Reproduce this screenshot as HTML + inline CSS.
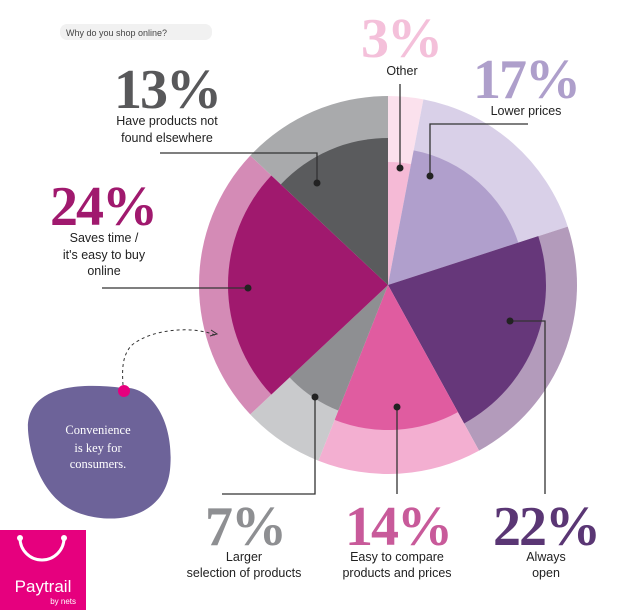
<!DOCTYPE html>
<html><head><meta charset="utf-8"><style>
body{margin:0;width:618px;height:610px;background:#fff;overflow:hidden;font-family:"Liberation Sans",sans-serif;}
svg{position:absolute;left:0;top:0}
.big{font-family:"Liberation Serif",serif;font-weight:bold;font-size:56px;letter-spacing:-2px}
.lab{font-size:12.5px;fill:#222;text-anchor:middle}
</style></head><body>
<svg id="chart" width="618" height="610">
<rect x="60" y="24" width="152" height="16" rx="7" fill="#f1f1f1"/>
<text x="66" y="36" font-size="9" fill="#444">Why do you shop online?</text>
<g id="slices"></g>
<g id="labels"></g>
<path d="M215,335 C190,325 150,330 132,345 C122,355 122,370 123,385" fill="none" stroke="#333" stroke-dasharray="3,3"/>
<path d="M211,330 l6,4 l-7,2" fill="none" stroke="#333"/>
<path d="M123,388 C150,385 175,420 170,470 C165,515 120,525 85,515 C45,505 30,460 28,430 C26,395 60,380 123,388 Z" fill="#6d6399"/>
<circle cx="124" cy="391" r="6" fill="#e6007e"/>
<text font-family="Liberation Serif,serif" font-size="12.5" fill="#fff" text-anchor="middle"><tspan x="98" y="434">Convenience</tspan><tspan x="98" y="452">is key for</tspan><tspan x="98" y="468">consumers.</tspan></text>
<rect x="0" y="530" width="86" height="80" fill="#e6007e"/>
<path d="M20,538 A22,22 0 0 0 64,538" fill="none" stroke="#fff" stroke-width="3"/>
<circle cx="20" cy="538" r="3" fill="#fff"/><circle cx="64" cy="538" r="3" fill="#fff"/>
<text x="43" y="592" fill="#fff" font-size="17" text-anchor="middle" font-family="Liberation Sans,sans-serif">Paytrail</text>
<text x="76" y="604" fill="#fff" font-size="8" text-anchor="end">by nets</text>
</svg>
<script>
const categories=["Other","Lower prices","Always open","Easy to compare","Larger selection","Saves time","Have products not found"];
const values=[3,17,22,14,7,24,13];
const innerR=[123,137,158,145,135,160,147];
const innerColors=["#f5bad6","#b09fcc","#66377a","#e05ca0","#8e8f92","#a0196e","#5a5b5d"];
const outerColors=["#fbe1ed","#d9d0e8","#b39bbb","#f3afd1","#c9cacc","#d48bb6","#a9aaac"];
const cx=388,cy=285,R=189;
const ns="http://www.w3.org/2000/svg";
const g=document.getElementById('slices');
const total=values.reduce((a,b)=>a+b,0);
function pt(r,a){return [cx+r*Math.sin(a),cy-r*Math.cos(a)];}
function wedge(r,a0,a1){const p0=pt(r,a0),p1=pt(r,a1);const large=(a1-a0)>Math.PI?1:0;return `M${cx},${cy}L${p0[0]},${p0[1]}A${r},${r} 0 ${large} 1 ${p1[0]},${p1[1]}Z`;}
let acc=0;
values.forEach((v,i)=>{
 const a0=acc/total*2*Math.PI, a1=(acc+v)/total*2*Math.PI; acc+=v;
 const o=document.createElementNS(ns,'path');
 o.setAttribute('d',wedge(R,a0,a1));o.setAttribute('fill',outerColors[i]);
 
 
 g.appendChild(o);
 const n=document.createElementNS(ns,'path');
 n.setAttribute('d',wedge(innerR[i],a0,a1));n.setAttribute('fill',innerColors[i]);
 
 
 g.appendChild(n);
});
</script>
<svg width="618" height="610" style="pointer-events:none">
<g stroke="#333" stroke-width="1.3" fill="none">
<path d="M400,168 V84"/><path d="M430,176 V124 H528"/><path d="M510,321 H545 V494"/>
<path d="M397,407 V494"/><path d="M315,397 V494 H222"/><path d="M248,288 H102"/><path d="M317,183 V153 H160"/>
</g>
<g fill="#222"><circle cx="400" cy="168" r="3.5"/><circle cx="430" cy="176" r="3.5"/><circle cx="510" cy="321" r="3.5"/><circle cx="397" cy="407" r="3.5"/><circle cx="315" cy="397" r="3.5"/><circle cx="248" cy="288" r="3.5"/><circle cx="317" cy="183" r="3.5"/></g>
<text class="big" x="401" y="57" fill="#f4c0da" text-anchor="middle">3%</text>
<text class="lab" x="402" y="75">Other</text>
<text class="big" x="526" y="98" fill="#ae9fcb" text-anchor="middle">17%</text>
<text class="lab" x="526" y="115">Lower prices</text>
<text class="big" x="167" y="108" fill="#58585a" text-anchor="middle">13%</text>
<text class="lab"><tspan x="167" y="125">Have products not</tspan><tspan x="167" y="142">found elsewhere</tspan></text>
<text class="big" x="103" y="225" fill="#a0196e" text-anchor="middle">24%</text>
<text class="lab"><tspan x="104" y="242">Saves time /</tspan><tspan x="104" y="259">it's easy to buy</tspan><tspan x="104" y="275">online</tspan></text>
<text class="big" x="245" y="545" fill="#8e8f92" text-anchor="middle">7%</text>
<text class="lab"><tspan x="244" y="561">Larger</tspan><tspan x="244" y="577">selection of products</tspan></text>
<text class="big" x="398" y="545" fill="#c85a9a" text-anchor="middle">14%</text>
<text class="lab"><tspan x="397" y="561">Easy to compare</tspan><tspan x="397" y="577">products and prices</tspan></text>
<text class="big" x="546" y="545" fill="#5a3674" text-anchor="middle">22%</text>
<text class="lab"><tspan x="546" y="561">Always</tspan><tspan x="546" y="577">open</tspan></text>
</svg>
</body></html>
